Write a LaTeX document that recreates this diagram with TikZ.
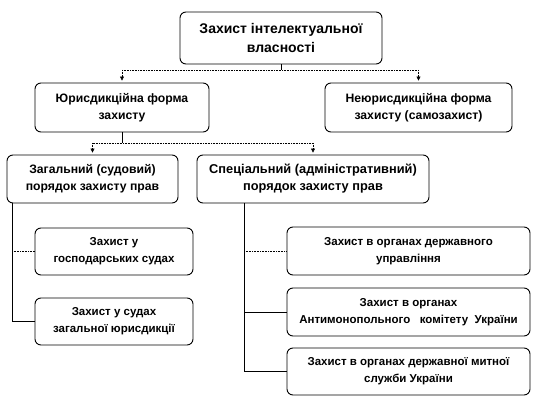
\documentclass[tikz,border=0pt]{standalone}
\usepackage{fontspec}
\setmainfont{Liberation Sans}
\usetikzlibrary{arrows.meta}
\begin{document}
\begin{tikzpicture}[x=1pt,y=-1pt,
 box/.style={draw=black, line width=0.9pt, rounded corners=6pt, align=center,
   font=\bfseries\fontsize{11.5}{17}\selectfont, inner sep=0pt},
 big/.style={font=\bfseries\fontsize{12.2}{17}\selectfont},
 vline/.style={line width=0.9pt},
 hline/.style={line width=0.6pt, densely dotted},
 arr/.style={-{Triangle[width=4pt,length=4pt]}, line width=0.6pt, densely dotted, shorten >=2pt}]
\useasboundingbox (0,0) rectangle (540,403);
\node[box, minimum width=202pt, minimum height=52pt, font=\bfseries\fontsize{14}{19}\selectfont] (top) at (281,38) {Захист інтелектуальної\\власності};
\node[box, big, minimum width=174pt, minimum height=49pt] (jur) at (122,107.5) {Юрисдикційна форма\\захисту};
\node[box, big, minimum width=187pt, minimum height=49pt] (nonjur) at (418.5,107.5) {Неюрисдикційна форма\\захисту (самозахист)};
\node[box, big, minimum width=171pt, minimum height=48pt] (gen) at (92.5,179) {Загальний (судовий)\\порядок захисту прав};
\node[box, big, minimum width=232pt, minimum height=48pt, font=\bfseries\fontsize{12.8}{17}\selectfont] (spec) at (313,179) {Спеціальний (адміністративний)\\порядок захисту прав};
\node[box, minimum width=158pt, minimum height=47pt] (g1) at (114,251.5) {Захист у\\господарських судах};
\node[box, minimum width=158pt, minimum height=47pt] (g2) at (114,321.5) {Захист у судах\\загальної юрисдикції};
\node[box, minimum width=243pt, minimum height=48pt] (s1) at (408.5,251) {Захист в органах державного\\управління};
\node[box, minimum width=243pt, minimum height=48pt] (s2) at (408.5,312) {Захист в органах\\Антимонопольного~~~комітету~~України};
\node[box, minimum width=243pt, minimum height=47pt] (s3) at (408.5,371.5) {Захист в органах державної митної\\служби України};
% level 1 -> 2
\coordinate (j1) at (top.south |- 0,70);
\draw[vline] (top.south) -- (j1);
\draw[hline] (jur.north |- j1) -- (nonjur.north |- j1);
\draw[arr] (jur.north |- j1) -- (jur.north);
\draw[arr] (nonjur.north |- j1) -- (nonjur.north);
% level 2 -> 3
\coordinate (j2) at (jur.south |- 0,143);
\draw[vline] (jur.south) -- (j2);
\draw[hline] (gen.north |- j2) -- (spec.north |- j2);
\draw[arr] (gen.north |- j2) -- (gen.north);
\draw[arr] (spec.north |- j2) -- (spec.north);
% left bus
\coordinate (lb) at (12,203);
\draw[vline] (lb) -- (lb |- g2.west);
\draw[hline] (lb |- g1.west) -- (g1.west);
\draw[vline] (lb |- g2.west) -- (g2.west);
% right bus
\coordinate (rb) at (244,203);
\draw[vline] (rb) -- (rb |- s3.west);
\draw[hline] (rb |- s1.west) -- (s1.west);
\draw[vline] (rb |- s2.west) -- (s2.west);
\draw[vline] (rb |- s3.west) -- (s3.west);
\end{tikzpicture}
\end{document}
